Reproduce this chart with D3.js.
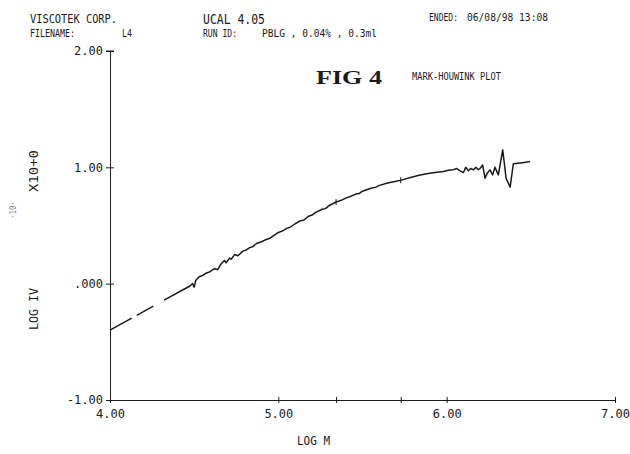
<!DOCTYPE html>
<html><head><meta charset="utf-8">
<script src="https://cdn.jsdelivr.net/npm/d3@7"></script>
<style>
html,body{margin:0;padding:0;background:#fff;}
svg{display:block;}
</style>
</head><body>
<svg id="chart" width="630" height="454"></svg>
<script>
// ---- data ----
const xTickValues = [4, 5, 6, 7];
const xTickLabels = ["4.00", "5.00", "6.00", "7.00"];
const xMarkerTicks = [5.343, 5.727];
const yTickValues = [2, 1, 0, -1];
const yTickLabels = ["2.00", "1.00", ".000", "-1.00"];

// dashed (gapped) start segment: null marks a gap
const logM = [
  4.00, 4.129, null, 4.159, 4.257, null, 4.321, 4.475,
  4.49, 4.50, 4.51, 4.53, 4.55, 4.57, 4.59, 4.62, 4.64, 4.66, 4.68, 4.69,
  4.71, 4.72, 4.74, 4.76, 4.79, 4.81, 4.83, 4.85, 4.87, 4.90, 4.92, 4.95,
  4.97, 5.00, 5.02, 5.05, 5.07, 5.10, 5.13, 5.15, 5.18, 5.20, 5.22, 5.26,
  5.28, 5.30, 5.34, 5.38, 5.40, 5.42, 5.46, 5.48, 5.50, 5.55, 5.58, 5.60,
  5.65, 5.70, 5.73, 5.78, 5.83, 5.88, 5.93, 5.98, 6.01, 6.04, 6.06, 6.08,
  6.099, 6.113, 6.129, 6.143, 6.159, 6.174, 6.188, 6.198, 6.214, 6.228, 6.241,
  6.257, 6.273, 6.287, 6.307, 6.333, 6.353, 6.377, 6.396, 6.45, 6.496
];
const logIV = [
  -0.40, -0.296, null, -0.272, -0.193, null, -0.141, -0.02,
  0.00, -0.03, 0.03, 0.06, 0.07, 0.09, 0.10, 0.13, 0.12, 0.17, 0.20, 0.18,
  0.22, 0.21, 0.25, 0.24, 0.28, 0.29, 0.31, 0.32, 0.345, 0.36, 0.375, 0.39,
  0.41, 0.44, 0.45, 0.475, 0.485, 0.515, 0.54, 0.545, 0.58, 0.59, 0.61, 0.64,
  0.645, 0.67, 0.70, 0.72, 0.735, 0.745, 0.77, 0.775, 0.795, 0.82, 0.83, 0.845,
  0.865, 0.88, 0.89, 0.91, 0.93, 0.945, 0.955, 0.965, 0.975, 0.98, 0.99, 0.97,
  0.954, 1.00, 0.97, 0.99, 0.978, 1.00, 0.98, 0.99, 1.02, 0.906, 0.95,
  0.978, 0.935, 1.00, 0.935, 1.15, 0.906, 0.83, 1.03, 1.04, 1.05
];

// ---- layout ----
const svg = d3.select("#chart");
const x = d3.scaleLinear().domain([4, 7]).range([110, 615]);
const y = d3.scaleLinear().domain([-1, 2]).range([400, 51]);
const ink = "#1a1a1a";
const plotFont = "'DejaVu Sans Mono','Liberation Mono',monospace";

function txt(t, px, py, size, len, family, weight) {
  const e = svg.append("text").attr("x", px).attr("y", py)
    .style("font-family", family || plotFont).style("font-weight", weight || "normal")
    .attr("font-size", size).attr("fill", ink).text(t);
  if (len) e.attr("textLength", len).attr("lengthAdjust", "spacingAndGlyphs");
  return e;
}
txt("VISCOTEK CORP.", 30, 23, 13, 87);
txt("FILENAME:", 30, 37, 10, 45);
txt("L4", 122, 37, 10, 10);
txt("UCAL 4.05", 203, 24, 14, 62);
txt("RUN ID:", 203, 37, 10, 34);
txt("PBLG , 0.04% , 0.3ml", 262, 37, 10, 115);
txt("ENDED:", 429, 21, 10, 29);
txt("06/08/98  13:08", 467, 21, 10, 81);
txt("FIG 4", 316, 84, 19, 66, "'Liberation Serif','DejaVu Serif',serif", "bold");
txt("MARK-HOUWINK PLOT", 412, 80, 11, 89);
txt("LOG M", 297, 445, 12, 33);

// rotated y labels
function rtxt(t, tx, ty, size, len, color) {
  svg.append("text").style("font-family", plotFont).attr("font-size", size).attr("fill", color || ink)
    .attr("transform", `translate(${tx},${ty}) rotate(-90)`).attr("textLength", len)
    .attr("lengthAdjust", "spacingAndGlyphs").text(t);
}
rtxt("LOG IV", 38, 330, 12, 42);
rtxt("X10+0", 38, 192, 12, 42);
rtxt("·10·", 16, 219, 8, 18, "#777");

// x axis
const xAxis = svg.append("g").attr("transform", `translate(0,${y(-1)})`)
  .call(d3.axisBottom(x).tickValues(xTickValues.concat(xMarkerTicks)).tickSize(4).tickSizeOuter(0)
    .tickFormat(d => { const i = xTickValues.indexOf(d); return i >= 0 ? xTickLabels[i] : ""; }));
xAxis.select(".domain").attr("stroke", ink).attr("stroke-width", 1);
xAxis.selectAll(".tick line").attr("y1", -3).attr("y2", 3).attr("stroke", ink);
xAxis.selectAll(".tick text").style("font-family", plotFont).attr("font-size", 12).attr("fill", ink)
  .attr("dy", "0").attr("y", 18);

// y axis
const yAxis = svg.append("g").attr("transform", `translate(${x(4)},0)`)
  .call(d3.axisLeft(y).tickValues(yTickValues).tickSize(4).tickSizeOuter(0)
    .tickFormat((d, i) => yTickLabels[i]));
yAxis.select(".domain").attr("stroke", ink).attr("stroke-width", 1);
yAxis.selectAll(".tick line").attr("x1", -4).attr("x2", 4).attr("stroke", ink);
yAxis.selectAll(".tick text").style("font-family", plotFont).attr("font-size", 12).attr("fill", ink).attr("x", -7);
yAxis.append("line").attr("x1", -4).attr("x2", 4).attr("y1", y(2)).attr("y2", y(2)).attr("stroke", ink);

// curve
const pts = logM.map((m, i) => ({ m, v: logIV[i] }));
const line = d3.line().defined(d => d.m !== null && d.v !== null)
  .x(d => x(d.m)).y(d => y(d.v));
svg.append("path").datum(pts).attr("d", line).attr("fill", "none")
  .attr("stroke", ink).attr("stroke-width", 1.5).attr("stroke-linejoin", "round");

// marker ticks on curve
const interp = m => {
  for (let i = 1; i < pts.length; i++) {
    const a = pts[i - 1], b = pts[i];
    if (a.m === null || b.m === null) continue;
    if (m >= a.m && m <= b.m) return a.v + (b.v - a.v) * (m - a.m) / (b.m - a.m);
  }
  return null;
};
svg.selectAll(".cm").data(xMarkerTicks).join("line").attr("class", "cm")
  .attr("x1", d => x(d)).attr("x2", d => x(d))
  .attr("y1", d => y(interp(d)) - 3).attr("y2", d => y(interp(d)) + 3)
  .attr("stroke", ink).attr("stroke-width", 1);
</script>
</body></html>
